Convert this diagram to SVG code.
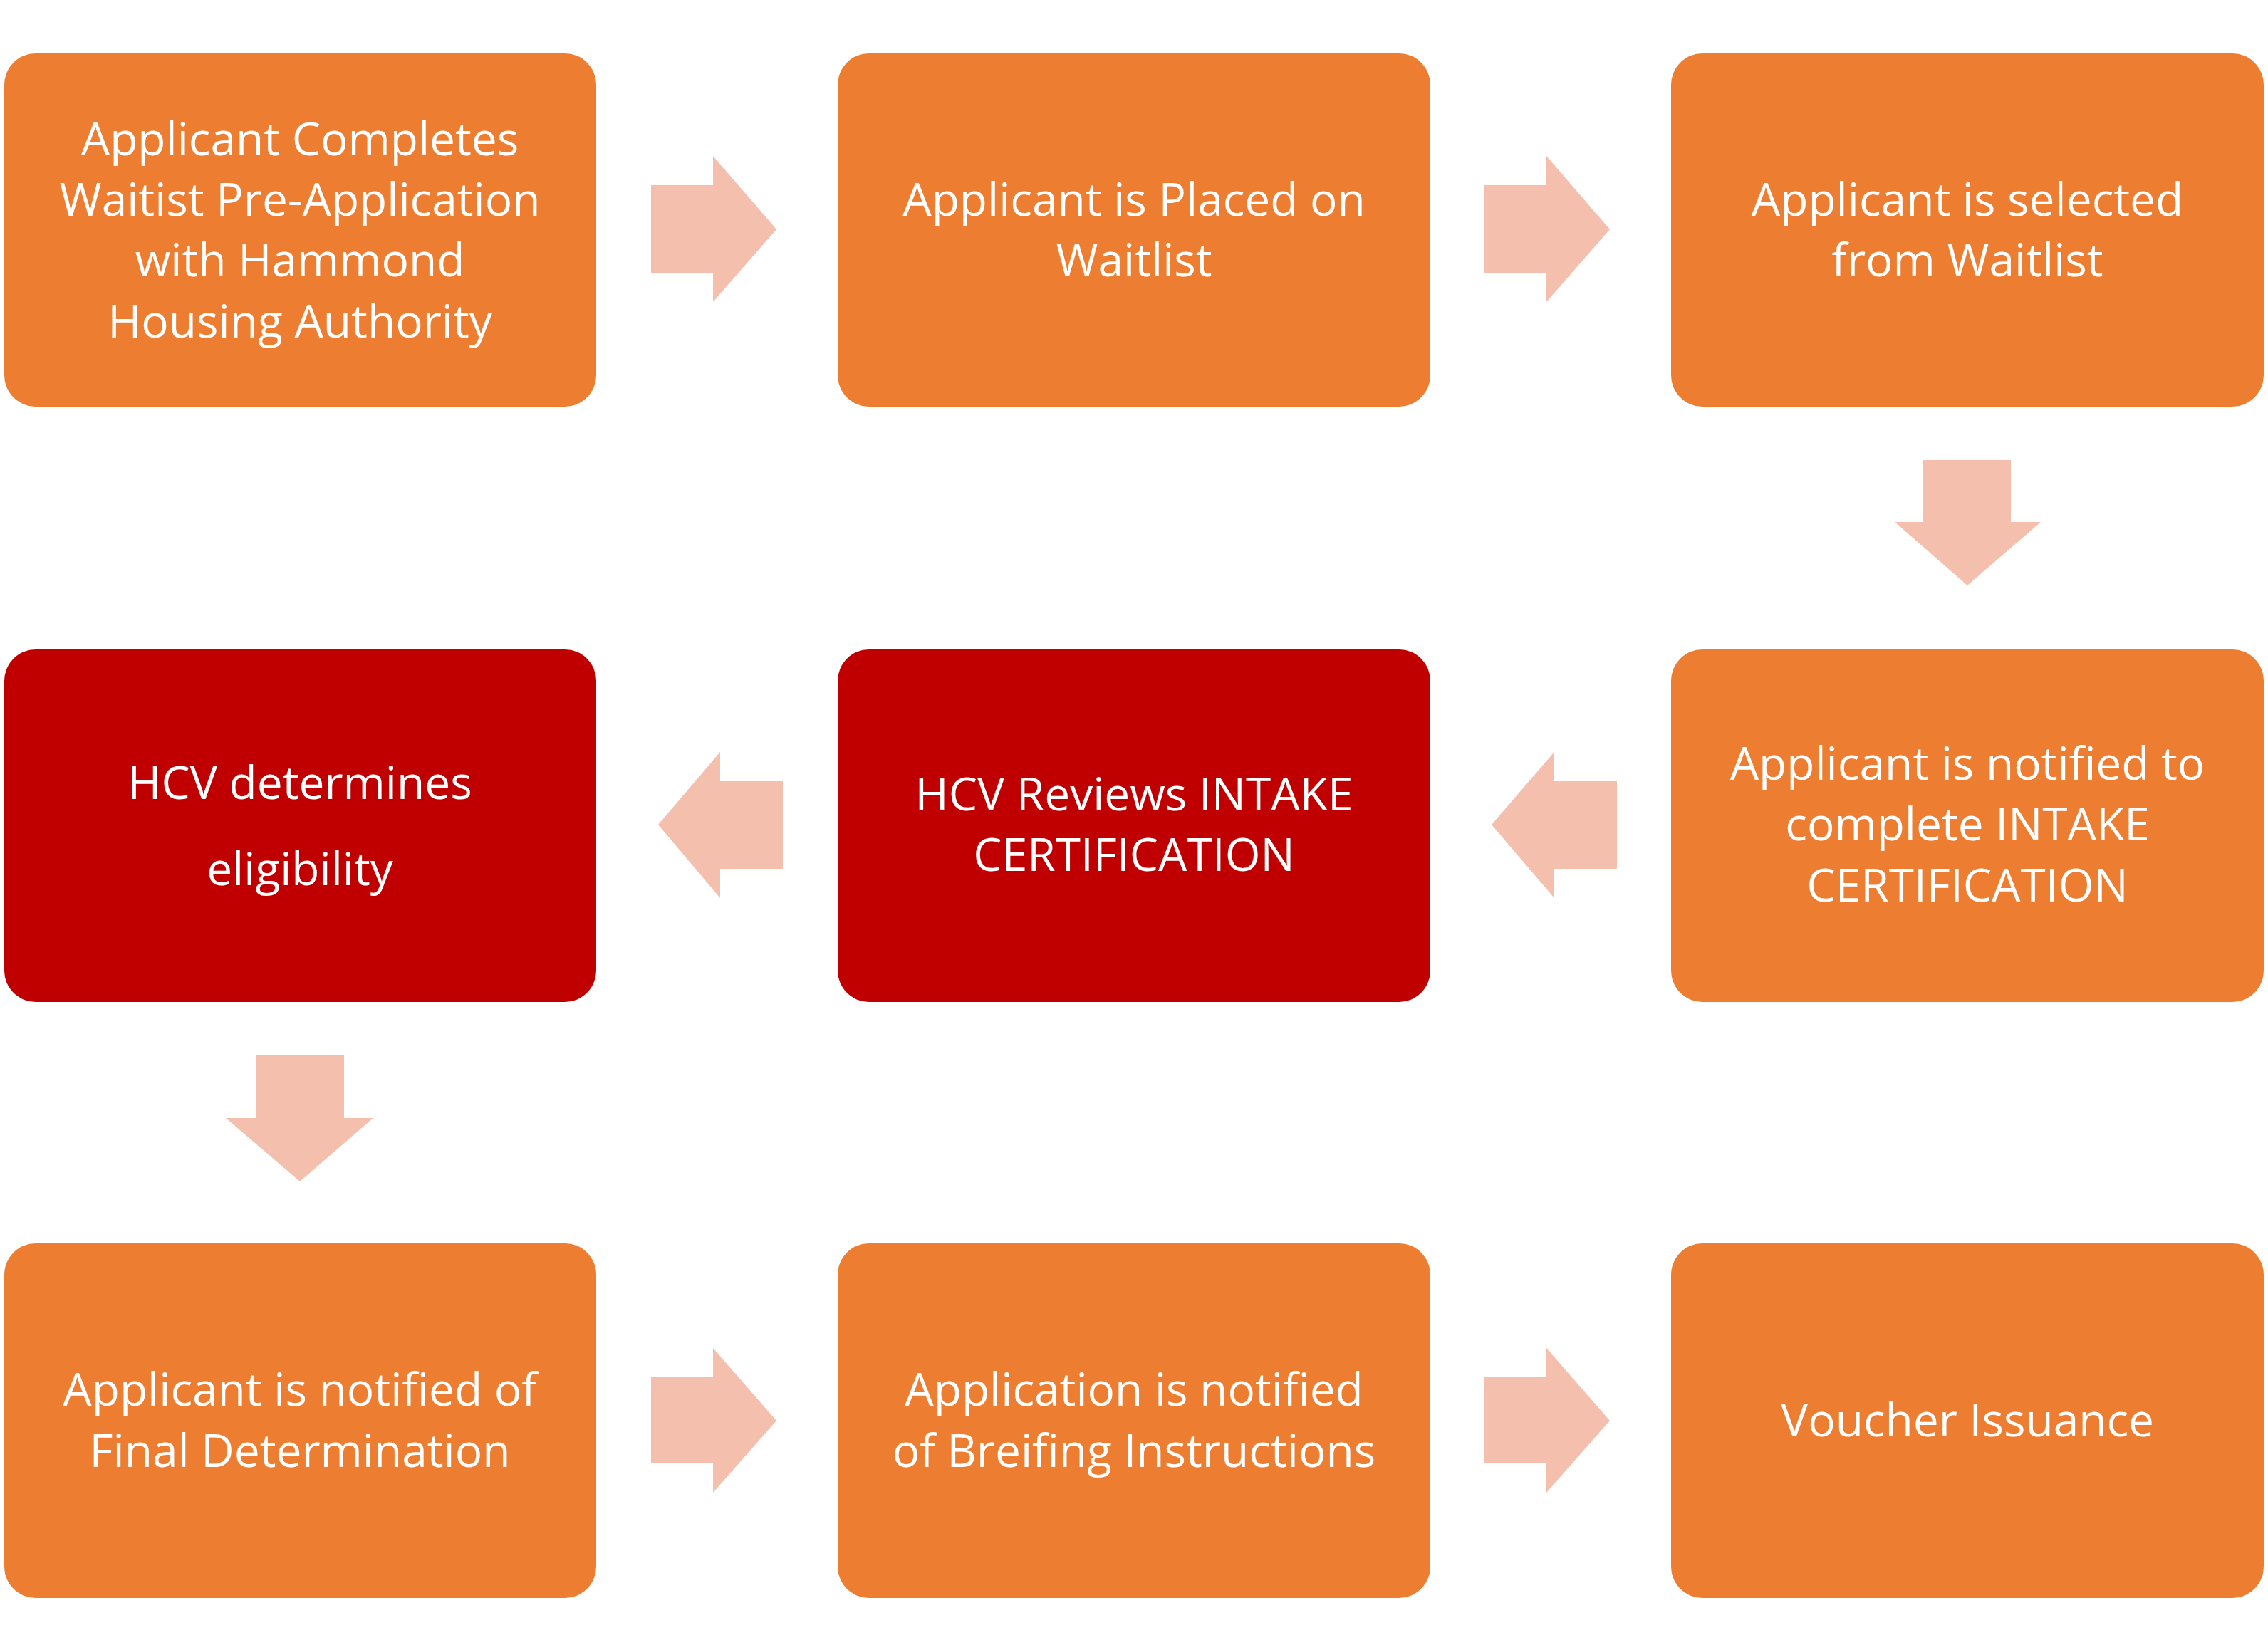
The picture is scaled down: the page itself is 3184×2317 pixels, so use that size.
<svg xmlns="http://www.w3.org/2000/svg" width="3184" height="2317" viewBox="0 0 3184 2317">
<style>
.o{fill:#ED7D31}.r{fill:#C00000}.a{fill:#F4BFAD}
text{font-family:"Open Sans","Liberation Sans",sans-serif;font-size:64px;fill:#fff;text-anchor:middle;dominant-baseline:central}
</style>
<rect width="3184" height="2317" fill="#fff"/>
<g id="n1"><rect class="o" x="6" y="75" width="831" height="496" rx="44"/><text x="421" y="193">Applicant  Completes</text><text x="421" y="278">Waitist  Pre-Application</text><text x="421" y="363">with Hammond</text><text x="421" y="449">Housing Authority</text></g>
<g id="n2"><rect class="o" x="1176" y="75" width="832" height="496" rx="44"/><text x="1592" y="278">Applicant is Placed on</text><text x="1592" y="363">Waitlist</text></g>
<g id="n3"><rect class="o" x="2346" y="75" width="832" height="496" rx="44"/><text x="2762" y="278">Applicant is selected</text><text x="2762" y="363">from Waitlist</text></g>
<g id="n4"><rect class="o" x="2346" y="912" width="832" height="495" rx="44"/><text x="2762" y="1070">Applicant is notified to</text><text x="2762" y="1155">complete INTAKE</text><text x="2762" y="1241">CERTIFICATION</text></g>
<g id="n5"><rect class="r" x="1176" y="912" width="832" height="495" rx="44"/><text x="1592" y="1113">HCV Reviews INTAKE</text><text x="1592" y="1198">CERTIFICATION</text></g>
<g id="n6"><rect class="r" x="6" y="912" width="831" height="495" rx="44"/><text x="421" y="1097">HCV determines</text><text x="421" y="1218">eligibility</text></g>
<g id="n7"><rect class="o" x="6" y="1746" width="831" height="498" rx="44"/><text x="421" y="1949">Applicant is notified of</text><text x="421" y="2035">Final Determination</text></g>
<g id="n8"><rect class="o" x="1176" y="1746" width="832" height="498" rx="44"/><text x="1592" y="1949">Application is notified</text><text x="1592" y="2035">of  Breifing Instructions</text></g>
<g id="n9"><rect class="o" x="2346" y="1746" width="832" height="498" rx="44"/><text x="2762" y="1992">Voucher  Issuance</text></g>
<g id="connectors">
<polygon class="a" points="914,260 1001,260 1001,219 1090,322 1001,424 1001,384 914,384"/>
<polygon class="a" points="2083,260 2171,260 2171,219 2260,322 2171,424 2171,384 2083,384"/>
<polygon class="a" points="2699,646 2823,646 2823,733 2865,733 2762,822 2660,733 2699,733"/>
<polygon class="a" points="1099,1097 1011,1097 1011,1056 924,1158 1011,1261 1011,1220 1099,1220"/>
<polygon class="a" points="2270,1097 2182,1097 2182,1056 2094,1158 2182,1261 2182,1220 2270,1220"/>
<polygon class="a" points="359,1482 483,1482 483,1570 524,1570 421,1659 317,1570 359,1570"/>
<polygon class="a" points="914,1933 1001,1933 1001,1893 1090,1995 1001,2096 1001,2055 914,2055"/>
<polygon class="a" points="2083,1933 2171,1933 2171,1893 2260,1995 2171,2096 2171,2055 2083,2055"/>
</g>
</svg>
